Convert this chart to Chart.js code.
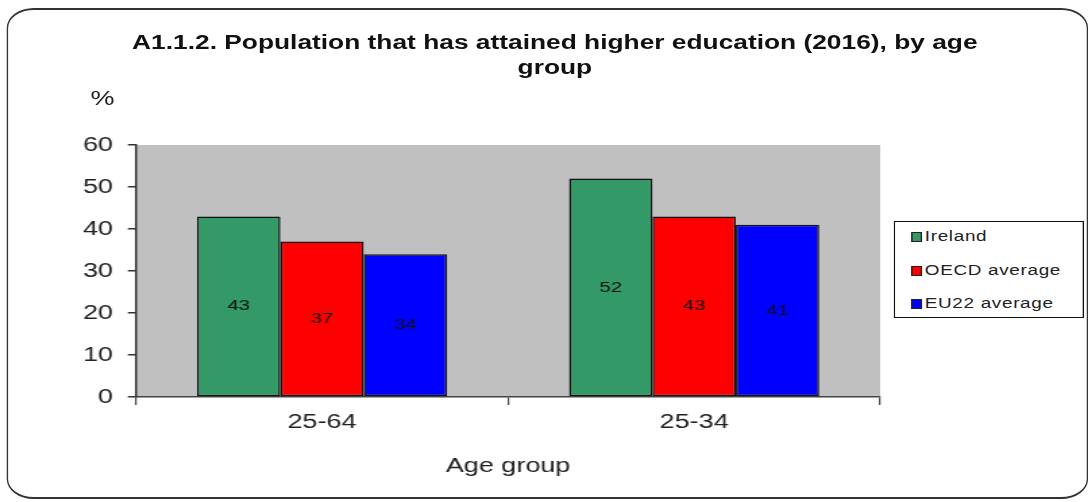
<!DOCTYPE html>
<html lang="en">
<head>
    <meta charset="UTF-8">
    <title>A1.1.2. Population that has attained higher education (2016), by age group</title>
    <style>
        body {
            margin: 0;
            background-color: #ffffff;
            overflow: hidden;
            font-family: "Liberation Sans", Arial, sans-serif;
        }
        /* the original picture is stretched sideways, so draw narrow and scale */
        #wrap {
            position: absolute;
            left: 0;
            top: 0;
            width: 806px;
            height: 502px;
            transform: scaleX(1.35);
            transform-origin: 0 0;
        }
        #frame {
            position: absolute;
            left: 4.5px;
            top: 8px;
            width: 801px;
            height: 491px;
            box-sizing: border-box;
            border-style: solid;
            border-color: #333;
            border-width: 2px 1.5px;
            border-radius: 20px;
        }
        #title {
            position: absolute;
            left: 0;
            top: 30px;
            width: 822px;
            text-align: center;
            font-weight: bold;
            font-size: 19.5px;
            line-height: 25px;
            color: #111;
        }
        #pct {
            position: absolute;
            left: 67px;
            top: 86px;
            font-size: 20px;
            line-height: 24px;
            color: #222;
        }
        #box {
            position: absolute;
            left: 0;
            top: 0;
            width: 806px;
            height: 502px;
        }
        #legend {
            position: absolute;
            left: 662px;
            top: 221px;
            width: 141px;
            height: 97px;
            box-sizing: border-box;
            border: 1.5px solid #111;
            background: #fff;
        }
        .item {
            position: absolute;
            left: 12px;
            height: 16px;
            line-height: 16px;
            font-size: 14px;
            letter-spacing: 0.5px;
            color: #222;
            white-space: nowrap;
        }
        .mark {
            display: inline-block;
            width: 6px;
            height: 8px;
            border: 1px solid #222;
            margin-right: 2px;
            vertical-align: -1px;
        }
    </style>
    <script src="https://cdn.jsdelivr.net/npm/chart.js"></script>
</head>
<body>
    <div id="wrap">
        <div id="frame"></div>
        <div id="title">A1.1.2. Population that has attained higher education (2016), by age<br>group</div>
        <div id="pct">%</div>
        <div id="box"><canvas id="chart"></canvas></div>
        <div id="legend"></div>
    </div>
    <script>
        var categories = ['25-64', '25-34'];
        var seriesNames = ['Ireland', 'OECD average', 'EU22 average'];
        var ireland = [43, 52];
        var oecd = [37, 43];
        var eu22 = [34, 41];
        var seriesColors = ['#339966', '#ff0000', '#0000ff'];
        var yMin = 0, yMax = 60, yStep = 10;

        var font = '"Liberation Sans", Arial, sans-serif';

        // grey plot area
        var plotBg = {
            id: 'plotBg',
            beforeDraw: function (chart) {
                var a = chart.chartArea, c = chart.ctx;
                c.save();
                c.fillStyle = '#c0c0c0';
                c.fillRect(a.left, a.top, a.right - a.left, a.bottom - a.top);
                c.restore();
            }
        };

        // value in the middle of each bar
        var barLabels = {
            id: 'barLabels',
            afterDatasetsDraw: function (chart) {
                var c = chart.ctx;
                c.save();
                c.font = '15px ' + font;
                c.fillStyle = '#111';
                c.textAlign = 'center';
                c.textBaseline = 'middle';
                chart.data.datasets.forEach(function (ds, i) {
                    chart.getDatasetMeta(i).data.forEach(function (bar, j) {
                        var p = bar.getCenterPoint();
                        c.fillText(ds.data[j], p.x, p.y);
                    });
                });
                c.restore();
            }
        };

        var values = [ireland, oecd, eu22];
        var datasets = seriesNames.map(function (name, i) {
            return {
                label: name,
                data: values[i],
                backgroundColor: seriesColors[i],
                borderColor: '#111',
                borderWidth: 1.5,
                borderSkipped: false,
                barPercentage: 1.0,
                categoryPercentage: 0.672
            };
        });

        new Chart(document.getElementById('chart'), {
            type: 'bar',
            data: { labels: categories, datasets: datasets },
            options: {
                responsive: true,
                maintainAspectRatio: false,
                animation: false,
                layout: { padding: { left: 0, top: 145, right: 154, bottom: 0 } },
                plugins: {
                    legend: { display: false },
                    tooltip: { enabled: false }
                },
                scales: {
                    x: {
                        afterFit: function (s) { s.height = 105; },
                        grid: { drawOnChartArea: false, tickLength: 8, color: '#444', lineWidth: 1.2, offset: true },
                        border: { display: true, color: '#444', width: 1.5 },
                        ticks: { padding: 5, color: '#222', font: { family: font, size: 20 } },
                        title: {
                            display: true,
                            text: 'Age group',
                            color: '#222',
                            font: { family: font, size: 20 },
                            padding: { top: 0, bottom: 24 }
                        }
                    },
                    y: {
                        min: yMin,
                        max: yMax,
                        afterFit: function (s) { s.width = 100.7; },
                        grid: { drawOnChartArea: false, tickLength: 6, color: '#333', lineWidth: 1.5 },
                        border: { display: true, color: '#333', width: 1.5 },
                        ticks: { stepSize: yStep, padding: 11, color: '#222', font: { family: font, size: 20 } }
                    }
                }
            },
            plugins: [plotBg, barLabels]
        });

        // legend box on the right
        var legend = document.getElementById('legend');
        seriesNames.forEach(function (name, i) {
            var row = document.createElement('div');
            row.className = 'item';
            row.style.top = (6 + i * 33.5) + 'px';
            var mark = document.createElement('span');
            mark.className = 'mark';
            mark.style.background = seriesColors[i];
            row.appendChild(mark);
            row.appendChild(document.createTextNode(name));
            legend.appendChild(row);
        });
    </script>
</body>
</html>
